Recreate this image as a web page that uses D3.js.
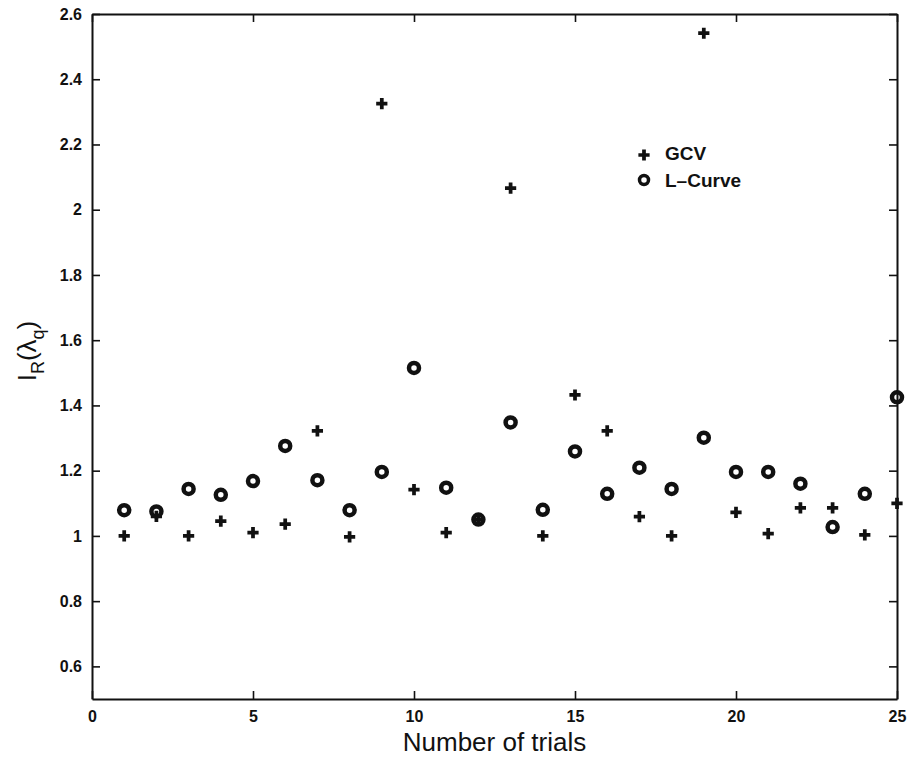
<!DOCTYPE html>
<html>
<head>
<meta charset="utf-8">
<script src="https://cdn.jsdelivr.net/npm/d3@7.9.0/dist/d3.min.js"></script>
<style>
  body { margin: 0; background: #fff; }
  svg { display: block; }
</style>
</head>
<body>
<svg id="chart" width="907" height="758"></svg>
<script>
// values
const trials = [1, 2, 3, 4, 5, 6, 7, 8, 9, 10, 11, 12, 13, 14, 15, 16, 17, 18, 19, 20, 21, 22, 23, 24, 25];
const gcv = [1.0, 1.06, 1.0, 1.045, 1.01, 1.036, 1.322, 0.997, 2.325, 1.142, 1.01, 1.05, 2.066,
  1.0, 1.432, 1.322, 1.059, 1.0, 2.541, 1.072, 1.007, 1.086, 1.086, 1.003, 1.10];
const lcurve = [1.079, 1.075, 1.144, 1.126, 1.168, 1.276, 1.171, 1.079, 1.196, 1.515, 1.148, 1.05, 1.348,
  1.08, 1.259, 1.129, 1.209, 1.144, 1.301, 1.196, 1.196, 1.16, 1.027, 1.129, 1.425];
const xTicks = [0, 5, 10, 15, 20, 25];
const yTicks = [0.6, 0.8, 1, 1.2, 1.4, 1.6, 1.8, 2, 2.2, 2.4, 2.6];
const legendLabels = ['GCV', 'L\u2013Curve'];

const margin = { left: 92, right: 10, top: 14, bottom: 59 };
const W = 907, H = 758;

const svg = d3.select('#chart');

const x = d3.scaleLinear().domain([0, 25]).range([margin.left, W - margin.right]);
const y = d3.scaleLinear().domain([0.5, 2.6]).range([H - margin.bottom, margin.top]);

const tickFont = 'Liberation Sans, Arial, sans-serif';

// axes with inward ticks on all four sides
const axisStyle = g => {
  g.select('.domain').attr('stroke', '#111').attr('stroke-width', 2);
  g.selectAll('.tick line').attr('stroke', '#111').attr('stroke-width', 1.6);
  g.selectAll('.tick text')
    .attr('fill', '#111')
    .attr('font-family', tickFont)
    .attr('font-weight', 'bold')
    .attr('font-size', 16);
};

svg.append('g')
  .attr('transform', `translate(0,${y(0.5)})`)
  .call(d3.axisBottom(x).tickValues(xTicks).tickSize(-8).tickPadding(12).tickSizeOuter(0))
  .call(axisStyle);

svg.append('g')
  .attr('transform', `translate(0,${y(2.6)})`)
  .call(d3.axisTop(x).tickValues(xTicks).tickSize(-8).tickFormat('').tickSizeOuter(0))
  .call(axisStyle);

svg.append('g')
  .attr('transform', `translate(${x(0)},0)`)
  .call(d3.axisLeft(y).tickValues(yTicks).tickSize(-8).tickPadding(10).tickSizeOuter(0).tickFormat(d3.format('')))
  .call(axisStyle);

svg.append('g')
  .attr('transform', `translate(${x(25)},0)`)
  .call(d3.axisRight(y).tickValues(yTicks).tickSize(-8).tickFormat('').tickSizeOuter(0))
  .call(axisStyle);

// markers
const plus = d3.symbol().type(d3.symbolCross).size(70);

svg.append('g')
  .selectAll('circle')
  .data(trials)
  .join('circle')
  .attr('cx', d => x(d))
  .attr('cy', (d, i) => y(lcurve[i]))
  .attr('r', 5)
  .attr('fill', 'none')
  .attr('stroke', '#111')
  .attr('stroke-width', 4.5);

svg.append('g')
  .selectAll('path')
  .data(trials)
  .join('path')
  .attr('d', plus)
  .attr('transform', (d, i) => `translate(${x(d)},${y(gcv[i])})`)
  .attr('fill', '#111');

// legend
const legend = svg.append('g').attr('transform', 'translate(644,0)');
legend.append('path').attr('d', plus).attr('transform', 'translate(0,155)').attr('fill', '#111');
legend.append('circle').attr('cx', 0).attr('cy', 180).attr('r', 4.5)
  .attr('fill', 'none').attr('stroke', '#111').attr('stroke-width', 3.5);
legend.selectAll('text')
  .data(legendLabels)
  .join('text')
  .attr('x', 21)
  .attr('y', (d, i) => 160 + i * 27)
  .attr('font-family', tickFont)
  .attr('font-weight', 'bold')
  .attr('font-size', 19)
  .attr('fill', '#111')
  .text(d => d);

// axis titles
svg.append('text')
  .attr('x', (x(0) + x(25)) / 2)
  .attr('y', 751)
  .attr('text-anchor', 'middle')
  .attr('font-family', 'Liberation Sans Narrow, Liberation Sans, Arial, sans-serif')
  .attr('font-size', 26)
  .attr('fill', '#111')
  .text('Number of trials');

const ylab = svg.append('text')
  .attr('transform', 'translate(36,351) rotate(-90)')
  .attr('text-anchor', 'middle')
  .attr('font-family', 'Liberation Sans, Arial, sans-serif')
  .attr('font-size', 26)
  .attr('fill', '#111');
ylab.append('tspan').text('I');
ylab.append('tspan').attr('font-size', 18).attr('dy', 8).text('R');
ylab.append('tspan').attr('dy', -8).text('(\u03bb');
ylab.append('tspan').attr('font-size', 18).attr('dy', 8).text('q');
ylab.append('tspan').attr('dy', -8).text(')');
</script>
</body>
</html>
